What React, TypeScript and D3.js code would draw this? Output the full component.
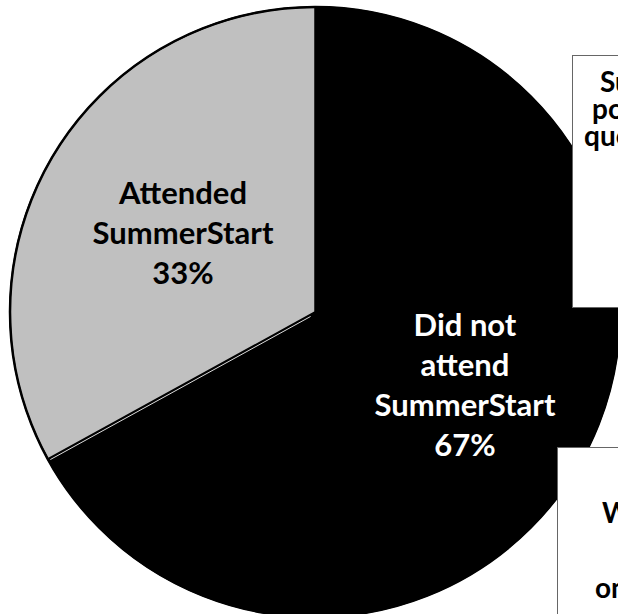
import React from "react";
import * as d3 from "d3";

const categories = ["Did not attend SummerStart", "Attended SummerStart"];
const values = [67, 33];
const colors = ["#000000", "#C0C0C0"];
const labelLines = [
  ["Did not", "attend", "SummerStart", "67%"],
  ["Attended", "SummerStart", "33%"],
];
const labelColors = ["#FFFFFF", "#000000"];
const box1Lines = ["Survey", "population", "questionnaire"];
const box2Lines = ["Work", "only"];

const W = 618;
const H = 614;
const cx = 315;
const cy = 312;
const R = 305;
const FONT = "Lato, 'DejaVu Sans', sans-serif";

export default function App() {
  const pie = d3
    .pie<number>()
    .sort(null)
    .value((d) => d)
    .startAngle(0)
    .endAngle(2 * Math.PI);
  const arcs = pie(values);
  const arcGen = d3.arc<d3.PieArcDatum<number>>().innerRadius(0).outerRadius(R);

  const a = arcs[0].endAngle;
  const off = 1.8;
  const ox = -Math.cos(a) * off;
  const oy = -Math.sin(a) * off;
  const lx1 = Math.sin(a) * 6 + ox;
  const ly1 = -Math.cos(a) * 6 + oy;
  const lx2 = Math.sin(a) * (R - 2) + ox;
  const ly2 = -Math.cos(a) * (R - 2) + oy;

  const labelPos = [
    { x: 465, y: 336, dy: 40 },
    { x: 183, y: 204, dy: 40 },
  ];

  return (
    <svg
      width={W}
      height={H}
      style={{ position: "absolute", left: 0, top: 0, overflow: "hidden", background: "#fff" }}
    >
      <rect x={0} y={0} width={W} height={H} fill="#fff" />
      <g transform={`translate(${cx},${cy})`}>
        {arcs.map((d, i) => (
          <path key={categories[i]} d={arcGen(d) || ""} fill={colors[i]} stroke="#000" strokeWidth={1.5} />
        ))}
        <line x1={lx1} y1={ly1} x2={lx2} y2={ly2} stroke="#ddd" strokeWidth={1} />
        <circle r={R} fill="none" stroke="#000" strokeWidth={2.5} />
      </g>
      {labelLines.map((lines, i) => (
        <text
          key={"lab" + i}
          fontFamily={FONT}
          fontWeight={700}
          fontSize={31}
          fill={labelColors[i]}
          textAnchor="middle"
        >
          {lines.map((t, j) => (
            <tspan key={j} x={labelPos[i].x} y={labelPos[i].y + j * labelPos[i].dy}>
              {t}
            </tspan>
          ))}
        </text>
      ))}
      <rect x={572.5} y={55.5} width={120} height={252} fill="#fff" stroke="#666" strokeWidth={1} />
      <text fontFamily={FONT} fontWeight={700} fontSize={28} fill="#000">
        <tspan x={600} y={92}>{box1Lines[0]}</tspan>
        <tspan x={592} y={119}>{box1Lines[1]}</tspan>
        <tspan x={584} y={146}>{box1Lines[2]}</tspan>
      </text>
      <rect x={557.5} y={447.5} width={120} height={200} fill="#fff" stroke="#666" strokeWidth={1} />
      <text fontFamily={FONT} fontWeight={700} fontSize={28} fill="#000">
        <tspan x={602} y={523}>{box2Lines[0]}</tspan>
        <tspan x={595} y={598}>{box2Lines[1]}</tspan>
      </text>
    </svg>
  );
}
